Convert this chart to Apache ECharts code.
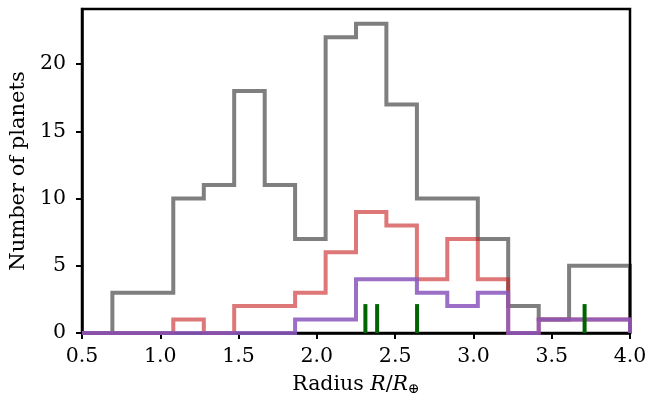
<!DOCTYPE html>
<html><head><meta charset="utf-8">
<script src="https://cdn.jsdelivr.net/npm/echarts@6/dist/echarts.min.js"></script>
<style>html,body{margin:0;padding:0;background:#fff}#c{width:651px;height:403px}</style>
</head><body><div id="c"></div>
<script>
const binEdges = [0.5, 0.694, 0.889, 1.083, 1.278, 1.472, 1.667, 1.861, 2.056, 2.25, 2.444, 2.639, 2.833, 3.028, 3.222, 3.417, 3.611, 3.806, 4.0];
const grayCounts   = [0,3,3,10,11,18,11,7,22,23,17,10,10,7,2,1,5,5];
const redCounts    = [0,0,0,1,0,2,2,3,6,9,8,4,7,4,0,1,1,1];
const purpleCounts = [0,0,0,0,0,0,0,1,1,4,4,3,2,3,0,1,1,1];
const rugRadii = [2.31, 2.385, 2.64, 3.71];
const rugHeight = 2.15;
const xTicks = [0.5,1.0,1.5,2.0,2.5,3.0,3.5,4.0];
const yTicks = [0,5,10,15,20];

function stepPoints(edges, counts){
  const pts = [[edges[0], 0]];
  for (let i = 0; i < counts.length; i++) {
    pts.push([edges[i], counts[i]]);
    pts.push([edges[i+1], counts[i]]);
  }
  pts.push([edges[edges.length-1], 0]);
  return pts;
}
function histSeries(name, counts, color, z){
  return {name, type:'line', data: stepPoints(binEdges, counts), symbol:'none',
    lineStyle:{color, width:4, join:'miter', cap:'butt'}, z, animation:false, clip:true};
}
const series = [
  histSeries('all', grayCounts, 'rgba(0,0,0,0.5)', 2),
  histSeries('red', redCounts, 'rgba(200,30,30,0.6)', 3),
  histSeries('purple', purpleCounts, 'rgba(140,90,190,0.87)', 4)
];
rugRadii.forEach((r,i)=>{
  series.push({type:'line', data:[[r,0],[r,rugHeight]], symbol:'none',
    lineStyle:{color:'#006400', width:4, cap:'butt'}, z:5, animation:false});
});

const chart = echarts.init(document.getElementById('c'), null, {renderer:'canvas'});
const font = "DejaVu Serif";
chart.setOption({
  animation:false,
  grid:{left:80, right:21, top:9, bottom:70, show:true, borderColor:'#000', borderWidth:2.5, backgroundColor:'transparent'},
  xAxis:{type:'value', min:xTicks[0], max:xTicks[xTicks.length-1], interval:0.5,
    name:'{n|Radius }{i|R}{n|/}{i|R}{s|⊕}', nameLocation:'middle', nameGap:40,
    nameTextStyle:{rich:{
      n:{fontFamily:font, fontSize:20.5, color:'#000'},
      i:{fontFamily:font, fontSize:20.5, fontStyle:'italic', color:'#000'},
      s:{fontFamily:font, fontSize:14, color:'#000', padding:[9,0,0,0]}}},
    axisLine:{show:true, onZero:false, lineStyle:{color:'#000', width:2.5}},
    axisTick:{show:true, inside:false, length:6, lineStyle:{color:'#000', width:2}},
    axisLabel:{fontFamily:font, fontSize:20.5, color:'#000', margin:13, formatter:v=>v.toFixed(1)},
    splitLine:{show:false}},
  yAxis:{type:'value', min:0, max:24.1, interval:5,
    name:'Number of planets', nameLocation:'middle', nameGap:53,
    nameTextStyle:{fontFamily:font, fontSize:21, color:'#000'},
    axisLine:{show:true, lineStyle:{color:'#000', width:2.5}},
    axisTick:{show:true, inside:false, length:6, lineStyle:{color:'#000', width:2}},
    axisLabel:{fontFamily:font, fontSize:20.5, color:'#000', margin:16, showMaxLabel:false,
      formatter:v=>yTicks.includes(v)?String(v):''},
    splitLine:{show:false}},
  series
});
</script></body></html>
